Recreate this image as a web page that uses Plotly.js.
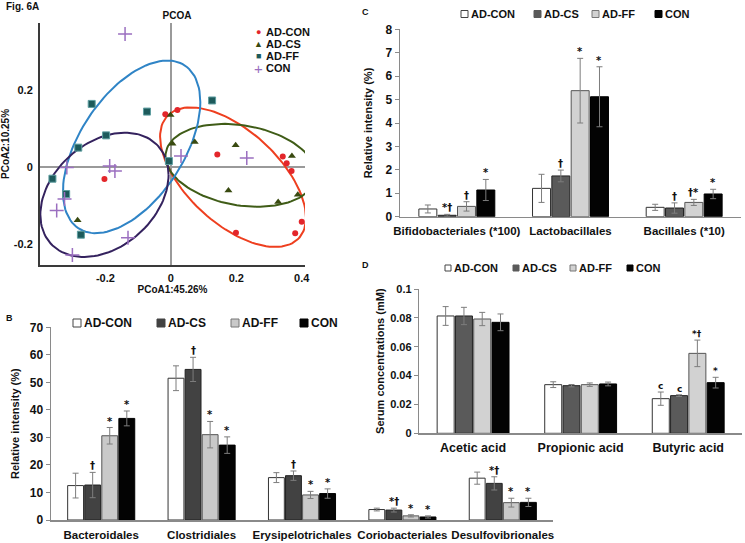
<!DOCTYPE html>
<html><head><meta charset="utf-8">
<script src="https://cdn.plot.ly/plotly-3.0.1.min.js"></script>
<style>body{margin:0;background:#fff}#chart{width:745px;height:543px}</style>
</head><body><div id="chart"></div>
<script>
// ---------- data ----------
const groups = ['AD-CON','AD-CS','AD-FF','CON'];

// Panel A: PCoA scores
const pcoaAdConX = [-0.017, 0.020, 0.142, 0.342, 0.354, 0.369, 0.400, 0.380, 0.199, -0.203];
const pcoaAdConY = [0.138, 0.149, 0.033, 0.028, 0.010, -0.010, -0.142, -0.172, -0.171, -0.031];
const pcoaAdCsX  = [-0.001, 0.005, 0.073, 0.198, 0.370, 0.176, 0.328, 0.388, -0.285];
const pcoaAdCsY  = [0.136, 0.061, 0.066, 0.057, 0.029, -0.061, -0.091, -0.072, -0.138];
const pcoaAdFfX  = [-0.242, -0.073, 0.126, -0.198, -0.283, -0.362, -0.320, -0.275, -0.006];
const pcoaAdFfY  = [0.165, 0.145, 0.174, 0.083, 0.051, -0.030, -0.070, -0.176, 0.016];
const pcoaConX   = [-0.140, -0.187, -0.171, -0.318, -0.325, -0.349, -0.131, -0.301, 0.031, 0.232];
const pcoaConY   = [0.347, 0.003, -0.010, -0.001, -0.083, -0.113, -0.184, -0.229, 0.029, 0.024];
// group ellipses: centre, half-extents, x/y coupling (AD-CON, AD-CS, AD-FF, CON)
const ellCx   = [0.190, 0.2135, -0.120, -0.203];
const ellCy   = [-0.026, 0.005, 0.053, -0.072];
const ellRx   = [0.223, 0.230, 0.210, 0.196];
const ellRy   = [0.182, 0.108, 0.225, 0.162];
const ellCosD = [-0.58, -0.22, 0.52, 0.32];
const pcoaTickVals = [-0.2, 0, 0.2, 0.4];
const pcoaTickText = ['-0.2', '0', '0.2', '0.4'];

// Panel B: relative intensity (%)
const bCats = ['Bacteroidales','Clostridiales','Erysipelotrichales','Coriobacteriales','Desulfovibrionales'];
const bAdCon = [12.5, 51.5, 15.4, 3.8, 15.2];  const bAdConErr = [4.5, 4.5, 1.8, 0.5, 2.2];
const bAdCs  = [12.7, 54.7, 16.1, 3.6, 13.3];  const bAdCsErr  = [4.6, 4.4, 1.7, 0.7, 2.4];
const bAdFf  = [30.6, 31.0, 9.1, 1.5, 6.3];    const bAdFfErr  = [3.0, 4.8, 1.3, 0.4, 1.6];
const bCon   = [36.9, 27.2, 9.6, 1.1, 6.4];    const bConErr   = [2.7, 3.0, 1.7, 0.4, 1.5];
const bMarks = [['','','','',''], ['†','†','†','*†','*†'], ['*','*','*','*','*'], ['*','*','*','*','*']];

// Panel C: relative intensity (%)
const cCats = ['Bifidobacteriales (*100)','Lactobacillales','Bacillales (*10)'];
const cAdCon = [0.33, 1.21, 0.40];  const cAdConErr = [0.17, 0.60, 0.13];
const cAdCs  = [0.06, 1.74, 0.37];  const cAdCsErr  = [0.04, 0.25, 0.22];
const cAdFf  = [0.44, 5.38, 0.61];  const cAdFfErr  = [0.20, 1.38, 0.13];
const cCon   = [1.14, 5.12, 0.97];  const cConErr   = [0.45, 1.28, 0.20];
const cMarks = [['','',''], ['*†','†','†'], ['†','*','†*'], ['*','*','*']];

// Panel D: serum concentrations (mM)
const dCats = ['Acetic acid','Propionic acid','Butyric acid'];
const dAdCon = [0.0813, 0.0337, 0.0240];  const dAdConErr = [0.0065, 0.0020, 0.0046];
const dAdCs  = [0.0813, 0.0330, 0.0261];  const dAdCsErr  = [0.0060, 0.0008, 0.0006];
const dAdFf  = [0.0792, 0.0337, 0.0554];  const dAdFfErr  = [0.0046, 0.0012, 0.0092];
const dCon   = [0.0769, 0.0342, 0.0351];  const dConErr   = [0.0058, 0.0013, 0.0037];
const dMarks = [['','','c'], ['','','c'], ['','','*†'], ['','','*']];

// ---------- helpers ----------
const W = 745, H = 543;
const px = x => x / W, py = y => 1 - y / H;
const BARGAP = 0.32, BARGROUPGAP = 0.07;
const offset = i => -(1 - BARGAP) / 2 + (i + 0.5) * (1 - BARGAP) / 4;

const traces = [];
const annotations = [];
const shapes = [];

// Panel A traces
const ellColors = ['#ee3f1f', '#3f5c17', '#2f84c6', '#34225e'];
for (let k = 0; k < 4; k++) {
  const ex = [], ey = [];
  const d = Math.acos(ellCosD[k]);
  for (let s = 0; s <= 120; s++) {
    const t = 2 * Math.PI * s / 120;
    ex.push(ellCx[k] + ellRx[k] * Math.cos(t));
    ey.push(ellCy[k] + ellRy[k] * Math.cos(t - d));
  }
  traces.push({type:'scatter', mode:'lines', x:ex, y:ey, xaxis:'x', yaxis:'y', showlegend:false,
    hoverinfo:'skip', line:{color:ellColors[k], width:2}});
}
const pcoaColors = ['#e3262b', '#394a10', '#1d5a5b', '#9b6fc0'];
const pcoaSets = [
  [pcoaAdConX, pcoaAdConY, {symbol:'circle', size:6, color:pcoaColors[0]}],
  [pcoaAdCsX,  pcoaAdCsY,  {symbol:'triangle-up', size:7, color:pcoaColors[1]}],
  [pcoaAdFfX,  pcoaAdFfY,  {symbol:'square', size:7, color:pcoaColors[2], line:{color:'#5e9ea0', width:1}}],
  [pcoaConX,   pcoaConY,   {symbol:'cross-thin', size:10, color:pcoaColors[3], line:{color:pcoaColors[3], width:1.5}}]
];
pcoaSets.forEach((s, i) => traces.push({type:'scatter', mode:'markers', name:groups[i], x:s[0], y:s[1],
  xaxis:'x', yaxis:'y', marker:s[2], showlegend:false}));

// Panel A legend (compact, as in the figure)
const pcoaGlyphs = ['●', '▲', '■', '+'];
const pcoaGlyphSize = [9, 9, 9, 15];
groups.forEach((g, i) => {
  const y = 32 + 12 * i;
  annotations.push({xref:'paper', yref:'paper', x:px(258), y:py(y), xanchor:'center', yanchor:'middle',
    text:pcoaGlyphs[i], showarrow:false, font:{size:pcoaGlyphSize[i], color:pcoaColors[i], weight:'normal'}});
  annotations.push({xref:'paper', yref:'paper', x:px(264), y:py(y), xanchor:'left', yanchor:'middle',
    text:g, showarrow:false, font:{size:11, color:'#111'}});
});

// bar panels
function addBars(cats, vals, errs, marks, fills, xa, ya, markSize) {
  const lines = ['#333', '#222', '#555', '#000'];
  groups.forEach((g, i) => {
    traces.push({type:'bar', name:g, x:cats, y:vals[i], xaxis:xa, yaxis:ya, showlegend:false,
      marker:{color:fills[i], line:{color:lines[i], width:1}},
      error_y:{type:'data', array:errs[i], visible:true, color:'#7d7d7d', thickness:1, width:3}});
    marks[i].forEach((m, j) => {
      if (!m) return;
      annotations.push({xref:xa, yref:ya, x:j + offset(i), y:vals[i][j] + errs[i][j], text:m,
        showarrow:false, yanchor:'bottom',
        font:{family:'DejaVu Sans, Liberation Sans, sans-serif', size:markSize, color:'#111'}, yshift:-1});
    });
  });
}
const fillsB = ['#ffffff', '#424242', '#c9c9c9', '#030303'];
const fillsC = ['#ffffff', '#5a5a5a', '#d2d2d2', '#030303'];
addBars(bCats, [bAdCon,bAdCs,bAdFf,bCon], [bAdConErr,bAdCsErr,bAdFfErr,bConErr], bMarks, fillsB, 'x2', 'y2', 10);
addBars(cCats, [cAdCon,cAdCs,cAdFf,cCon], [cAdConErr,cAdCsErr,cAdFfErr,cConErr], cMarks, fillsC, 'x3', 'y3', 10);
addBars(dCats, [dAdCon,dAdCs,dAdFf,dCon], [dAdConErr,dAdCsErr,dAdFfErr,dConErr], dMarks, fillsC, 'x4', 'y4', 9);

// manual box legends (Excel style)
function boxLegend(xs, y, box, fsize, fills, outlines) {
  groups.forEach((g, i) => {
    shapes.push({type:'rect', xref:'paper', yref:'paper', x0:px(xs[i]), x1:px(xs[i] + box),
      y0:py(y + box / 2), y1:py(y - box / 2), fillcolor:fills[i], line:{color:outlines[i], width:1}});
    annotations.push({xref:'paper', yref:'paper', x:px(xs[i] + box + 1), y:py(y), xanchor:'left',
      yanchor:'middle', text:g, showarrow:false, font:{size:fsize, color:'#111'}});
  });
}
boxLegend([73, 157, 231, 300], 323, 8, 12, fillsB, ['#444', '#424242', '#777', '#030303']);
boxLegend([461, 534, 592, 655], 14, 7, 11, fillsC, ['#444', '#5a5a5a', '#777', '#030303']);
boxLegend([445, 513, 570, 627], 268, 6, 11, fillsC, ['#444', '#5a5a5a', '#777', '#030303']);

// panel labels
[['Fig. 6A', 4, 7, 10], ['B', 4, 318, 9], ['C', 360, 12, 9], ['D', 360, 265, 9]].forEach(l =>
  annotations.push({xref:'paper', yref:'paper', x:px(l[1]), y:py(l[2]), xanchor:'left', yanchor:'middle',
    text:l[0], showarrow:false, font:{size:l[3], color:'#111'}}));

const barX = (dom, fsize, gap) => ({domain:dom, showline:true, linecolor:'#8a8a8a', linewidth:1.5,
  ticks:'outside', ticklen:gap, tickcolor:'rgba(0,0,0,0)', tickangle:0, showgrid:false, zeroline:false,
  tickfont:{size:fsize}, fixedrange:true});
const barY = (dom, range, dtick, title, standoff, tsize) => ({domain:dom, range:range, dtick:dtick, showline:true,
  linecolor:'#8a8a8a', linewidth:1.5, ticks:'outside', ticklen:4, tickcolor:'#8a8a8a', showgrid:false,
  zeroline:false, tickfont:{size:tsize}, title:{text:title, font:{size:11}, standoff:standoff}});

const layout = {
  width:W, height:H, margin:{l:0, r:0, t:0, b:0},
  paper_bgcolor:'#ffffff', plot_bgcolor:'rgba(0,0,0,0)',
  font:{family:'Liberation Sans, Arial, sans-serif', size:11, color:'#111', weight:'bold'},
  barmode:'group', bargap:BARGAP, bargroupgap:BARGROUPGAP,
  title:{text:'PCOA', x:px(177), xanchor:'center', xref:'paper', y:py(15), yanchor:'middle', font:{size:10}},
  showlegend:false,
  xaxis:{domain:[px(40), px(305)], range:[-0.4, 0.41], anchor:'y', showline:true, linecolor:'#3a3a3a', linewidth:2,
    zeroline:true, zerolinecolor:'#9a9a9a', zerolinewidth:1.5, showgrid:false,
    ticks:'outside', ticklen:2, tickcolor:'rgba(0,0,0,0)',
    tickvals:pcoaTickVals, ticktext:pcoaTickText, tickfont:{size:11},
    title:{text:'PCoA1:45.26%', font:{size:10}, standoff:0}},
  yaxis:{domain:[py(265), py(23)], range:[-0.255, 0.376], anchor:'x', showline:true, linecolor:'#3a3a3a', linewidth:2,
    zeroline:true, zerolinecolor:'#9a9a9a', zerolinewidth:1.5, showgrid:false,
    ticks:'outside', ticklen:3, tickcolor:'rgba(0,0,0,0)',
    tickvals:pcoaTickVals, ticktext:pcoaTickText, tickfont:{size:11},
    title:{text:'PCoA2:10.25%', font:{size:10}, standoff:3}},
  xaxis2:Object.assign(barX([px(51), px(553)], 11.5, 4), {anchor:'y2', range:[-0.5, 4.5]}),
  yaxis2:Object.assign(barY([py(520), py(327.3)], [0, 70], 10, 'Relative intensity (%)', 8, 12), {anchor:'x2'}),
  xaxis3:Object.assign(barX([px(400), px(741)], 11.5, 3), {anchor:'y3', range:[-0.5, 2.5]}),
  yaxis3:Object.assign(barY([py(216.7), py(29.3)], [0, 8], 1, 'Relative intensity (%)', 10, 12), {anchor:'x3'}),
  xaxis4:Object.assign(barX([px(419.3), px(742)], 12.5, 2), {anchor:'y4', range:[-0.5, 2.5]}),
  yaxis4:Object.assign(barY([py(433.3), py(289)], [0, 0.1], 0.02, 'Serum concentrations (mM)', 3, 11), {anchor:'x4'}),
  annotations:annotations, shapes:shapes
};

Plotly.newPlot('chart', traces, layout, {staticPlot:true, displayModeBar:false});
</script>
</body></html>
